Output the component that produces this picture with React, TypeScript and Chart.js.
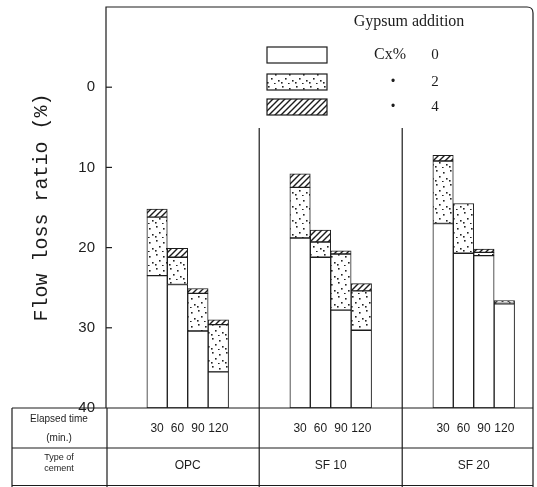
import React, { useEffect, useRef } from "react";
import { Chart, registerables } from "chart.js";

Chart.register(...registerables);

// ---- data ----
const timeLabels = ["30", "60", "90", "120"];
const cementTypes = ["OPC", "SF 10", "SF 20"];
const gypsumLevels = ["0", "2", "4"];
const yTicks = [0, 10, 20, 30, 40];

// flow loss ratio (%) at each gypsum addition (Cx%), OPC / SF10 / SF20 × 30,60,90,120 min
const cx0 = [23.5, 24.6, 30.4, 35.5, 18.8, 21.2, 27.8, 30.3, 17.0, 20.7, 21.0, 27.0];
const cx2 = [16.2, 21.2, 25.7, 29.6, 12.5, 19.3, 20.8, 25.4, 9.2, 14.5, 20.6, 26.8];
const cx4 = [15.2, 20.1, 25.1, 29.0, 10.8, 17.8, 20.4, 24.5, 8.5, 14.5, 20.2, 26.6];

const Y_MIN = -10;
const Y_MAX = 40;

const INK = "#1c1c1c";
const SANS = "'Liberation Sans', Arial, sans-serif";
const SERIF = "'Liberation Serif', 'Times New Roman', serif";
const MONO = "'Liberation Mono', 'Courier New', monospace";

// category slots: blank spacers around the groups
const LEAD = 2;
const GAP = 3;
const TRAIL = 1;

function buildCategories() {
  const labels: string[] = [];
  const dataIndex: (number | null)[] = [];
  const dividers: number[] = [];
  const spans: [number, number][] = [];
  cementTypes.forEach((_, g) => {
    const n = g === 0 ? LEAD : GAP;
    for (let i = 0; i < n; i++) {
      if (g > 0 && i === Math.floor(GAP / 2)) dividers.push(labels.length);
      labels.push("");
      dataIndex.push(null);
    }
    const start = labels.length;
    timeLabels.forEach((t, k) => {
      labels.push(t);
      dataIndex.push(g * timeLabels.length + k);
    });
    spans.push([start, labels.length - 1]);
  });
  for (let i = 0; i < TRAIL; i++) {
    labels.push("");
    dataIndex.push(null);
  }
  return { labels, dataIndex, dividers, spans };
}

function makeDots(): CanvasPattern | string {
  const c = document.createElement("canvas");
  c.width = 14;
  c.height = 14;
  const g = c.getContext("2d");
  if (!g) return "#fff";
  g.fillStyle = "#fff";
  g.fillRect(0, 0, 14, 14);
  g.fillStyle = "#222";
  [
    [2, 2],
    [9, 4],
    [5, 8],
    [12, 10],
    [1, 12],
    [8, 13],
  ].forEach(([px, py]) => g.fillRect(px, py, 1.6, 1.6));
  return g.createPattern(c, "repeat") || "#eee";
}

function makeHatch(): CanvasPattern | string {
  const s = 6;
  const c = document.createElement("canvas");
  c.width = s;
  c.height = s;
  const g = c.getContext("2d");
  if (!g) return "#ccc";
  g.fillStyle = "#fff";
  g.fillRect(0, 0, s, s);
  g.strokeStyle = "#1c1c1c";
  g.lineWidth = 1.4;
  g.beginPath();
  g.moveTo(0, s);
  g.lineTo(s, 0);
  g.moveTo(-1, 1);
  g.lineTo(1, -1);
  g.moveTo(s - 1, s + 1);
  g.lineTo(s + 1, s - 1);
  g.stroke();
  return g.createPattern(c, "repeat") || "#ccc";
}

export default function App() {
  const ref = useRef<HTMLCanvasElement | null>(null);

  useEffect(() => {
    if (!ref.current) return;
    const { labels, dataIndex, dividers, spans } = buildCategories();
    const fills = ["#ffffff", makeDots(), makeHatch()];
    const series = [cx0, cx2, cx4];

    const datasets = gypsumLevels.map((lvl, s) => ({
      label: lvl,
      data: dataIndex.map((di) =>
        di === null ? null : [s === 0 ? Y_MAX : series[s - 1][di], series[s][di]]
      ),
      backgroundColor: fills[s],
      borderColor: INK,
      borderWidth: 1,
      borderSkipped: false,
    }));

    const background = {
      id: "bg",
      beforeDraw(chart: any) {
        const { ctx } = chart;
        ctx.save();
        ctx.fillStyle = "#fff";
        ctx.fillRect(0, 0, chart.width, chart.height);
        ctx.restore();
      },
    };

    const frame = {
      id: "frame",
      afterDraw(chart: any) {
        const { ctx, chartArea: a, scales } = chart;
        const x = scales.x;
        const y = scales.y;
        const H = chart.height;
        const L = a.left;
        const R = a.right - 2;
        const T = a.top;
        const B = a.bottom;
        const tableLeft = 12;
        const rowMid = 448;
        const line = (x1: number, y1: number, x2: number, y2: number) => {
          ctx.beginPath();
          ctx.moveTo(x1, y1);
          ctx.lineTo(x2, y2);
          ctx.stroke();
        };
        ctx.save();
        ctx.strokeStyle = INK;
        ctx.lineWidth = 1.2;
        // frame
        ctx.beginPath();
        ctx.moveTo(L, B);
        ctx.lineTo(L, T);
        ctx.lineTo(R - 6, T);
        ctx.quadraticCurveTo(R, T, R, T + 6);
        ctx.lineTo(R, H);
        ctx.stroke();
        // inward ticks
        yTicks.slice(0, -1).forEach((v) => {
          const py = y.getPixelForValue(v);
          line(L, py, L + 6, py);
        });
        // table
        line(tableLeft, B, R, B);
        line(tableLeft, rowMid, R, rowMid);
        line(tableLeft, H - 1.5, R, H - 1.5);
        line(tableLeft, B, tableLeft, H);
        line(L + 1, B, L + 1, H);
        // group dividers
        dividers.forEach((i) => {
          const px = x.getPixelForValue(i);
          line(px, 128, px, H);
        });

        // table texts
        ctx.fillStyle = INK;
        ctx.textAlign = "center";
        ctx.textBaseline = "middle";
        const cellX = (tableLeft + L) / 2;
        ctx.font = `10px ${SANS}`;
        ctx.fillText("Elapsed time", cellX, 419);
        ctx.fillText("(min.)", cellX, 438);
        ctx.font = `9px ${SANS}`;
        ctx.fillText("Type of", cellX, 458);
        ctx.fillText("cement", cellX, 469);
        ctx.font = `12px ${SANS}`;
        spans.forEach(([s0, s1], g) => {
          const cx = (x.getPixelForValue(s0) + x.getPixelForValue(s1)) / 2;
          ctx.fillText(cementTypes[g], cx, 466);
        });

        // legend
        ctx.font = `16px ${SERIF}`;
        ctx.fillText("Gypsum addition", 409, 22);
        const boxY = [47, 74, 99];
        chart.data.datasets.forEach((ds: any, i: number) => {
          ctx.fillStyle = ds.backgroundColor;
          ctx.fillRect(267, boxY[i], 60, 16);
          ctx.lineWidth = 1.2;
          ctx.strokeStyle = INK;
          ctx.strokeRect(267, boxY[i], 60, 16);
          ctx.fillStyle = INK;
          if (i === 0) {
            ctx.font = `16px ${SERIF}`;
            ctx.fillText("Cx%", 390, boxY[i] + 8);
          } else {
            ctx.font = `bold 20px ${SERIF}`;
            ctx.fillText("·", 393, boxY[i] + 8);
          }
          ctx.font = `15px ${SERIF}`;
          ctx.fillText(ds.label, 435, boxY[i] + 8);
        });
        ctx.restore();
      },
    };

    const chart = new Chart(ref.current, {
      type: "bar",
      data: { labels, datasets: datasets as any },
      options: {
        responsive: false,
        animation: false,
        layout: { padding: { top: 7, right: 2, left: 0, bottom: 0 } },
        plugins: {
          legend: { display: false },
          tooltip: { enabled: false },
        },
        datasets: {
          bar: { grouped: false, barPercentage: 1, categoryPercentage: 1 },
        },
        scales: {
          x: {
            type: "category",
            grid: { display: false, drawTicks: false },
            border: { display: false },
            ticks: {
              autoSkip: false,
              maxRotation: 0,
              minRotation: 0,
              padding: 13,
              color: INK,
              font: { family: SANS, size: 12 },
            },
            afterFit: (s: any) => {
              s.height = 79;
              s.paddingLeft = 0;
              s.paddingRight = 0;
            },
          },
          y: {
            reverse: true,
            min: Y_MIN,
            max: Y_MAX,
            grid: { display: false, drawTicks: false },
            border: { display: false },
            afterBuildTicks: (s: any) => {
              s.ticks = yTicks.map((v) => ({ value: v }));
            },
            ticks: {
              padding: 11,
              color: INK,
              font: { family: SANS, size: 15 },
            },
            title: {
              display: true,
              text: "Flow loss ratio (%)",
              color: INK,
              font: { family: MONO, size: 20 },
              padding: { top: 30, bottom: 0 },
            },
            afterFit: (s: any) => {
              s.width = 106;
              s.paddingTop = 0;
              s.paddingBottom = 0;
            },
          },
        },
      } as any,
      plugins: [background, frame],
    });
    return () => chart.destroy();
  }, []);

  return (
    <div style={{ position: "absolute", left: 0, top: 0, width: 537, height: 487 }}>
      <canvas ref={ref} width={537} height={487} />
    </div>
  );
}
